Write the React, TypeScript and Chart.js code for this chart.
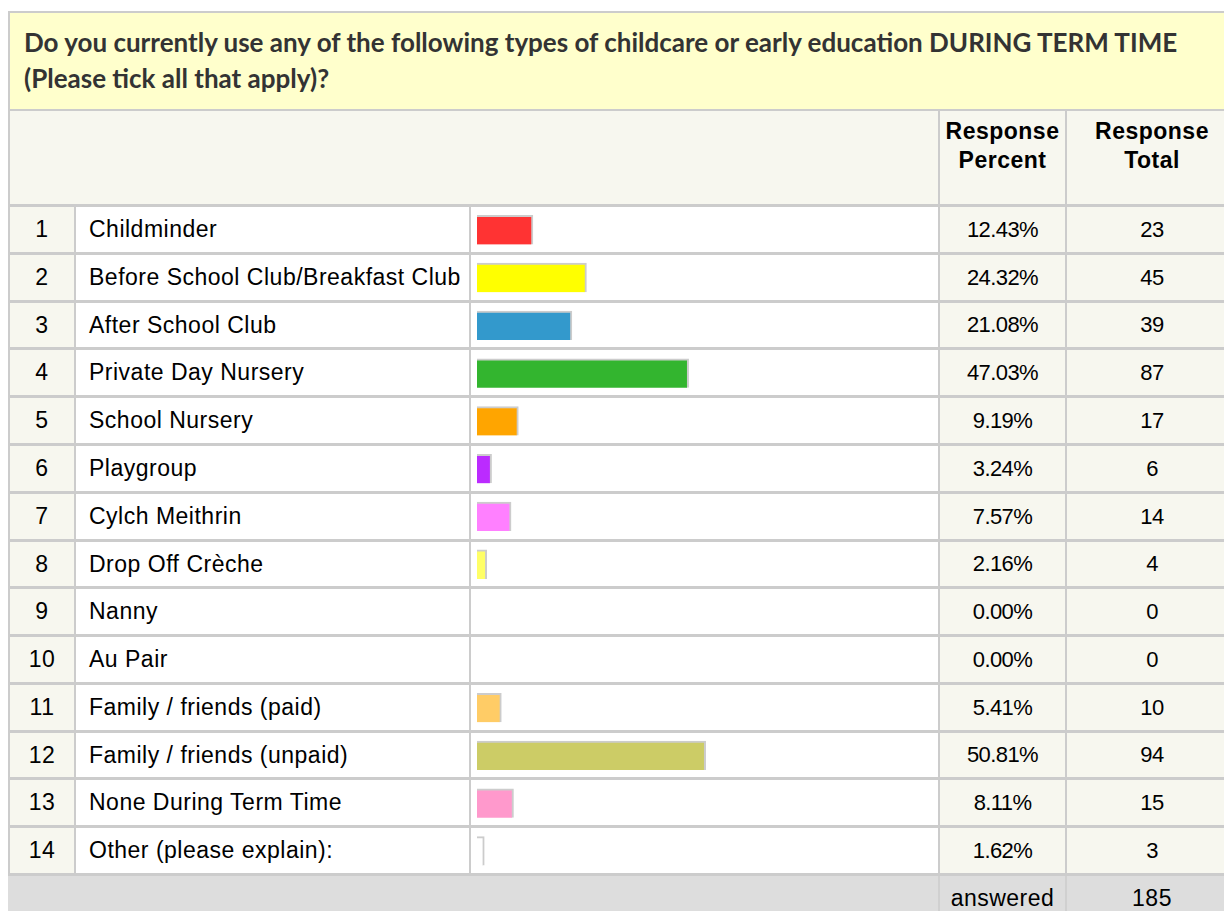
import React, { useEffect, useRef } from "react";
import { Chart, registerables } from "chart.js";

Chart.register(...registerables);

const titleLine1 =
  "Do you currently use any of the following types of childcare or early education DURING TERM TIME";
const titleLine2 = "(Please tick all that apply)?";
const headerPercent = ["Response", "Percent"];
const headerTotal = ["Response", "Total"];

const categories = [
  "Childminder",
  "Before School Club/Breakfast Club",
  "After School Club",
  "Private Day Nursery",
  "School Nursery",
  "Playgroup",
  "Cylch Meithrin",
  "Drop Off Crèche",
  "Nanny",
  "Au Pair",
  "Family / friends (paid)",
  "Family / friends (unpaid)",
  "None During Term Time",
  "Other (please explain):",
];
const percents = [12.43, 24.32, 21.08, 47.03, 9.19, 3.24, 7.57, 2.16, 0, 0, 5.41, 50.81, 8.11, 1.62];
const totals = [23, 45, 39, 87, 17, 6, 14, 4, 0, 0, 10, 94, 15, 3];
const barColors = [
  "#ff3333",
  "#ffff00",
  "#3399cc",
  "#33b52f",
  "#ffa500",
  "#bb2bff",
  "#ff80ff",
  "#ffff66",
  "#cccccc",
  "#cccccc",
  "#ffcc66",
  "#cccc66",
  "#ff99cc",
  "#ffffff",
];
const answeredLabel = "answered";
const answeredTotal = 185;

const GRID = "#cccccc";
const CREAM = "#f7f7ef";
const TITLE_BG = "#ffffcc";
const FOOT_BG = "#dddddd";
const SANS = '"Liberation Sans", Arial, sans-serif';

const ROW_TOP = 204;
const ROWS_H = 669;
const pitch = ROWS_H / categories.length;
const lineY = (k: number) => Math.round(ROW_TOP + pitch * k);

const X_LEFT = 8;
const X_NUM = 74;
const X_LABEL = 469;
const X_PCT = 938;
const X_TOT = 1065;
const X_END = 1237;

function BarColumn() {
  const ref = useRef<HTMLCanvasElement>(null);
  useEffect(() => {
    const chart = new Chart(ref.current as HTMLCanvasElement, {
      type: "bar",
      data: {
        labels: categories,
        datasets: [
          {
            data: percents,
            backgroundColor: barColors,
            borderColor: GRID,
            borderWidth: { top: 2, right: 2, bottom: 0, left: 0 },
            borderSkipped: false,
            barThickness: 29,
          } as any,
        ],
      },
      options: {
        indexAxis: "y",
        responsive: false,
        animation: false,
        layout: { padding: { left: 6, right: 11, top: 0, bottom: 0 } },
        scales: {
          x: { display: false, min: 0, max: 100 },
          y: { display: false },
        },
        plugins: { legend: { display: false }, tooltip: { enabled: false } },
      },
    });
    return () => chart.destroy();
  }, []);
  return (
    <canvas
      ref={ref}
      width={X_PCT - X_LABEL - 2}
      height={ROWS_H}
      style={{ position: "absolute", left: X_LABEL + 2, top: ROW_TOP + 2, width: X_PCT - X_LABEL - 2, height: ROWS_H }}
    />
  );
}

const box = (l: number, t: number, w: number, h: number, bg: string, key?: string) => (
  <div key={key} style={{ position: "absolute", left: l, top: t, width: w, height: h, background: bg }} />
);

const WIDE: React.CSSProperties = { fontSize: 23, letterSpacing: "0.5px" };
const NUMF: React.CSSProperties = { fontSize: 22, letterSpacing: "-0.6px" };

export default function App() {
  const els: React.ReactNode[] = [];
  const lastLine = lineY(categories.length);

  // backgrounds
  els.push(box(X_LEFT, 11, X_END - X_LEFT, 100, TITLE_BG, "titlebg"));
  els.push(box(X_LEFT, 111, X_END - X_LEFT, ROW_TOP - 111, CREAM, "headbg"));
  els.push(box(X_LEFT, ROW_TOP, X_NUM - X_LEFT, lastLine - ROW_TOP, CREAM, "numbg"));
  els.push(box(X_NUM, ROW_TOP, X_PCT - X_NUM, lastLine - ROW_TOP, "#ffffff", "whitebg"));
  els.push(box(X_PCT, ROW_TOP, X_END - X_PCT, lastLine - ROW_TOP, CREAM, "valbg"));
  els.push(box(X_LEFT, lastLine, X_END - X_LEFT, 911 - lastLine, FOOT_BG, "footbg"));

  // outer borders
  els.push(box(X_LEFT, 11, X_END - X_LEFT, 2, GRID, "topb"));
  els.push(box(X_LEFT, 11, 2, lastLine - 11, GRID, "leftb"));
  els.push(box(X_LEFT, 109, X_END - X_LEFT, 2, GRID, "titleb"));

  // header vertical separators
  els.push(box(X_PCT, 111, 2, ROW_TOP - 111, GRID, "hv1"));
  els.push(box(X_TOT, 111, 2, ROW_TOP - 111, GRID, "hv2"));

  // row vertical separators
  [X_NUM, X_LABEL, X_PCT, X_TOT].forEach((x, i) =>
    els.push(box(x, ROW_TOP, 2, lastLine - ROW_TOP, GRID, "rv" + i))
  );
  // footer vertical separators
  els.push(box(X_PCT, lastLine, 2, 911 - lastLine, "#d0d0d0", "fv1"));
  els.push(box(X_TOT, lastLine, 2, 911 - lastLine, "#d0d0d0", "fv2"));

  // horizontal row lines
  for (let k = 0; k <= categories.length; k++) {
    els.push(box(X_LEFT, lineY(k), X_END - X_LEFT, 3, GRID, "hl" + k));
  }

  const cell = (
    l: number,
    t: number,
    w: number,
    h: number,
    text: React.ReactNode,
    align: "center" | "left",
    font: React.CSSProperties,
    key: string
  ) => (
    <div
      key={key}
      style={{
        position: "absolute",
        left: l,
        top: t,
        width: w,
        height: h,
        display: "flex",
        alignItems: "center",
        justifyContent: align === "center" ? "center" : "flex-start",
        fontFamily: SANS,
        color: "#000",
        whiteSpace: "nowrap",
        ...font,
      }}
    >
      {text}
    </div>
  );

  categories.forEach((c, k) => {
    const t = lineY(k) + 3;
    const h = lineY(k + 1) - t;
    els.push(cell(X_LEFT + 2, t, X_NUM - X_LEFT - 2, h, String(k + 1), "center", WIDE, "n" + k));
    els.push(cell(89, t, X_LABEL - 89, h, c, "left", WIDE, "c" + k));
    els.push(cell(X_PCT + 2, t, X_TOT - X_PCT - 2, h, percents[k].toFixed(2) + "%", "center", NUMF, "p" + k));
    els.push(cell(X_TOT + 2, t, X_END - X_TOT - 2, h, String(totals[k]), "center", NUMF, "t" + k));
  });

  const headStyle = (l: number, w: number): React.CSSProperties => ({
    position: "absolute",
    left: l,
    top: 117,
    width: w,
    textAlign: "center",
    fontFamily: SANS,
    fontWeight: "bold",
    lineHeight: "29px",
    color: "#000",
    whiteSpace: "nowrap",
    ...WIDE,
  });

  const footStyle = (l: number, w: number): React.CSSProperties => ({
    position: "absolute",
    left: l,
    top: 886,
    width: w,
    textAlign: "center",
    fontFamily: SANS,
    lineHeight: "24px",
    color: "#000",
    whiteSpace: "nowrap",
    ...WIDE,
  });

  return (
    <div style={{ position: "absolute", left: 0, top: 0, width: 1224, height: 911, overflow: "hidden", background: "#fff" }}>
      {els}
      <div
        style={{
          position: "absolute",
          left: 24,
          top: 24,
          fontFamily: "Lato, 'Open Sans', sans-serif",
          fontWeight: "bold",
          fontSize: 26,
          lineHeight: "36px",
          color: "#333333",
          whiteSpace: "nowrap",
        }}
      >
        {titleLine1}
        <br />
        {titleLine2}
      </div>
      <div style={headStyle(X_PCT + 2, X_TOT - X_PCT - 2)}>
        {headerPercent[0]}
        <br />
        {headerPercent[1]}
      </div>
      <div style={headStyle(X_TOT + 2, X_END - X_TOT - 2)}>
        {headerTotal[0]}
        <br />
        {headerTotal[1]}
      </div>
      <div style={footStyle(X_PCT + 2, X_TOT - X_PCT - 2)}>{answeredLabel}</div>
      <div style={footStyle(X_TOT + 2, X_END - X_TOT - 2)}>{answeredTotal}</div>
      <BarColumn />
    </div>
  );
}
